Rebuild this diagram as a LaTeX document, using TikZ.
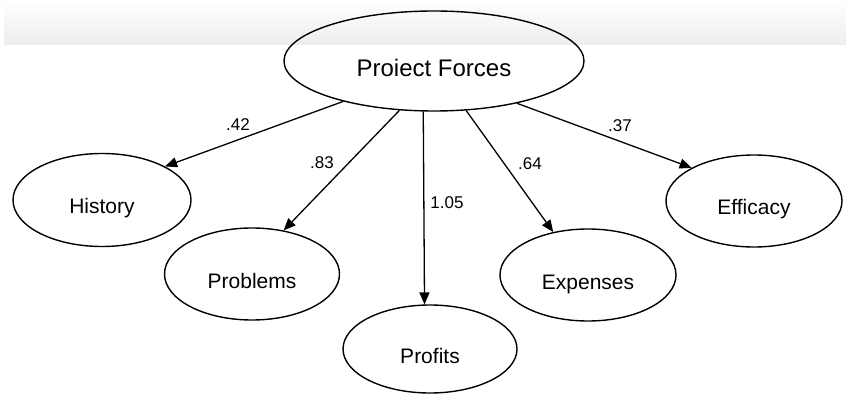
\documentclass[tikz,border=0pt]{standalone}
\usepackage{fontspec}
\setmainfont{Liberation Sans}
\usetikzlibrary{shapes.geometric,arrows.meta}
\begin{document}
\begin{tikzpicture}[x=1pt,y=1pt,
  factor/.style={draw, ellipse, line width=1.4pt, inner sep=0pt,
    font=\fontsize{21}{24}\selectfont, text height=28pt, text depth=0pt},
  path/.style={line width=1.3pt, -{Triangle[length=12pt,width=10pt]}},
  weight/.style={font=\fontsize{17}{20}\selectfont}]
  \useasboundingbox (0,0) rectangle (846,394);
  % light header band
  \shade[top color=white, bottom color=black!7] (4,394) rectangle (846,349);

  % latent factor and indicators
  \node[factor, minimum width=300pt, minimum height=100pt,
        font=\fontsize{24}{28}\selectfont, text height=32pt] (pf) at (434,333) {Proiect Forces};
  \node[factor, minimum width=178pt, minimum height=93pt] (hist) at (102,194) {History};
  \node[factor, minimum width=175pt, minimum height=92pt] (prob) at (252,120) {Problems};
  \node[factor, minimum width=174pt, minimum height=88pt] (prof) at (430,45) {Profits};
  \node[factor, minimum width=176pt, minimum height=92pt] (exps) at (588,119) {Expenses};
  \node[factor, minimum width=176pt, minimum height=92pt] (effi) at (754,193) {Efficacy};

  % loadings
  \draw[path] (pf.204.1) -- (hist.28.8);
  \draw[path] (pf.235.5) -- (prob.54.8);
  \draw[path] (pf.258.9) -- (prof.97.8);
  \draw[path] (pf.303.7) -- (exps.129.8);
  \draw[path] (pf.333.4) -- (effi.152.7);

  \node[weight] (w1) at (238,269) {.42};
  \node[weight] (w2) at (322,231) {.83};
  \node[weight] (w3) at (447,191) {1.05};
  \node[weight] (w4) at (530,230) {.64};
  \node[weight] (w5) at (620,268) {.37};
\end{tikzpicture}
\end{document}
